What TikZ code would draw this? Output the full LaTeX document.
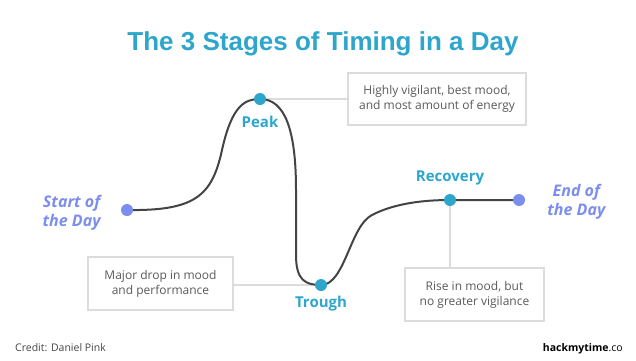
\documentclass[tikz,border=0pt]{standalone}
\usepackage{fontspec}
\setmainfont{Open Sans}
\newfontfamily\titlefont{Liberation Sans}
\usepackage{xcolor}
\usetikzlibrary{positioning, backgrounds}

\definecolor{stageblue}{HTML}{2EA6CC}
\definecolor{daycolor}{HTML}{7B8DEE}
\definecolor{curvegray}{HTML}{444444}
\definecolor{boxgray}{HTML}{DCDCDC}
\definecolor{textgray}{HTML}{5A5A5A}

\begin{document}
\begin{tikzpicture}[x=1pt, y=-1pt,
    % ── Curve and dots ───────────────────────────────────────────────
    curve/.style={draw=curvegray, line width=2pt},
    stagedot/.style={circle, fill=stageblue, inner sep=0pt, minimum size=12pt},
    daydot/.style={circle, fill=daycolor, inner sep=0pt, minimum size=12pt},
    % ── Labels ───────────────────────────────────────────────────────
    stagelbl/.style={font=\fontsize{15}{18}\selectfont\bfseries, text=stageblue,
                     anchor=base, inner sep=0pt},
    daylbl/.style={font=\fontsize{16}{19}\selectfont\bfseries\itshape, text=daycolor,
                   align=center, inner sep=0pt},
    % ── Callout boxes and their leaders ──────────────────────────────
    callout/.style={draw=boxgray, line width=1.5pt, fill=white,
                    align=center, text=textgray, inner sep=0pt,
                    font=\fontsize{12}{15}\selectfont},
    leader/.style={draw=boxgray, line width=1.5pt}
]
\useasboundingbox (0,0) rectangle (636,360);

% ══════════════════════════════════════════════════════════════════════
% TITLE
% ══════════════════════════════════════════════════════════════════════
    \node[font=\titlefont\fontsize{26}{30}\selectfont\bfseries, text=stageblue,
          anchor=base] (title) at (323,50) {The 3 Stages of Timing in a Day};

% ══════════════════════════════════════════════════════════════════════
% CURVE
% ══════════════════════════════════════════════════════════════════════
    \coordinate (start)    at (127,210);
    \coordinate (peak)     at (260,99);
    \coordinate (trough)   at (321,285);
    \coordinate (recovery) at (450,200);
    \coordinate (finish)   at (519,200);

    \draw[curve] (start)
        .. controls (195,211) and (212,196) .. (222,150)
        .. controls (232,105) and (245,99) .. (peak)
        .. controls (285,99) and (296,130) .. (296,190)
        -- (296,255)
        .. controls (296,280) and (305,285) .. (trough)
        .. controls (345,285) and (350,226) .. (372,215)
        .. controls (395,203) and (425,200) .. (recovery)
        -- (finish);

% ══════════════════════════════════════════════════════════════════════
% CALLOUT BOXES
% ══════════════════════════════════════════════════════════════════════
    \node[callout, minimum width=178pt, minimum height=52pt] (peakbox)
        at (437,99) {Highly vigilant, best mood,\\and most amount of energy};
    \node[callout, minimum width=145pt, minimum height=53pt] (troughbox)
        at (160.5,283.5) {Major drop in mood\\and performance};
    \node[callout, minimum width=139pt, minimum height=53pt] (recoverybox)
        at (474.5,294.5) {Rise in mood, but\\no greater vigilance};

    \begin{scope}[on background layer]
        \draw[leader] (peak) -- (peak -| peakbox.west);
        \draw[leader] (troughbox.east |- trough) -- (trough);
        \draw[leader] (recovery) -- (recovery |- recoverybox.north);
    \end{scope}

% ══════════════════════════════════════════════════════════════════════
% DOTS AND LABELS
% ══════════════════════════════════════════════════════════════════════
    \node[daydot]   (startdot)    at (start) {};
    \node[daydot]   (finishdot)   at (finish) {};
    \node[stagedot] (peakdot)     at (peak) {};
    \node[stagedot] (troughdot)   at (trough) {};
    \node[stagedot] (recoverydot) at (recovery) {};

    \node[stagelbl] (peaklbl)     at (260,127) {Peak};
    \node[stagelbl] (troughlbl)   at (321,307) {Trough};
    \node[stagelbl] (recoverylbl) at (450,181) {Recovery};

    \node[daylbl, left=20pt of startdot, yshift=-3pt]  (startlbl)  {Start of\\the Day};
    \node[daylbl, right=22pt of finishdot, yshift=-2pt] (finishlbl) {End of\\the Day};

% ══════════════════════════════════════════════════════════════════════
% FOOTER
% ══════════════════════════════════════════════════════════════════════
    \node[font=\fontsize{10.5}{12}\selectfont, text=curvegray, anchor=base west,
          inner sep=0pt] (credit) at (15,351) {Credit: Daniel Pink};
    \node[font=\fontsize{10.5}{12}\selectfont, text=black, anchor=base east,
          inner sep=0pt] (site) at (623,351) {\textbf{hackmytime}.co};

\end{tikzpicture}
\end{document}
